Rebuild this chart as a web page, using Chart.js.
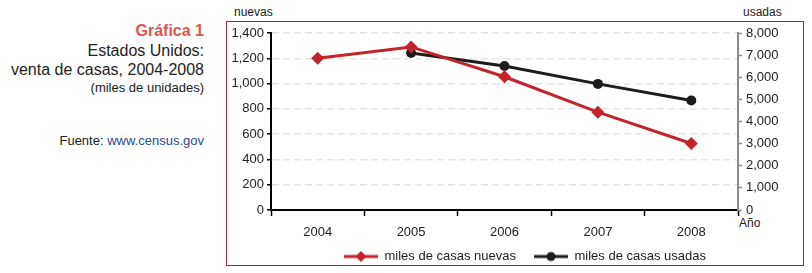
<!DOCTYPE html>
<html>
<head>
<meta charset="utf-8">
<script src="https://cdn.jsdelivr.net/npm/chart.js@4"></script>
<style>
  body { margin: 0; width: 812px; height: 273px; overflow: hidden; background: #fff; position: relative;
         font-family: "Liberation Sans", Arial, sans-serif; color: #222; }
  .side { position: absolute; right: 608px; white-space: nowrap; text-align: right; }
  #box { position: absolute; left: 226px; top: 21px; width: 578px; height: 245px; box-sizing: border-box;
         border: 1px solid #a8283e; }
  #chart { position: absolute; left: 0; top: 0; }
  .lbl { position: absolute; font-size: 12px; line-height: 12px; color: #222; }
</style>
</head>
<body>
<div class="side" style="top:23px;font-size:16px;line-height:16px;font-weight:bold;color:#e0554d;">Gráfica 1</div>
<div class="side" style="top:43px;font-size:16px;line-height:16px;">Estados Unidos:</div>
<div class="side" style="top:62px;font-size:16px;line-height:16px;">venta de casas, 2004-2008</div>
<div class="side" style="top:81px;font-size:13px;line-height:13px;">(miles de unidades)</div>
<div class="side" style="top:134px;font-size:13px;line-height:13px;">Fuente: <span style="color:#2c4797;">www.census.gov</span></div>

<div id="box"></div>
<div class="lbl" style="left:234px;top:6px;">nuevas</div>
<div class="lbl" style="left:743px;top:6px;">usadas</div>
<div class="lbl" style="left:739px;top:217px;">Año</div>

<canvas id="chart" width="840" height="273"></canvas>

<script>
// datos de la gráfica
const years = ['2004', '2005', '2006', '2007', '2008'];
const casasNuevas = [1200, 1290, 1054, 774, 526];
const casasUsadas = [null, 7100, 6505, 5700, 4950];
const seriesNames = ['miles de casas nuevas', 'miles de casas usadas'];

const rojo = '#c4232b';
const negro = '#1c1c1c';

Chart.defaults.font.family = '"Liberation Sans", Arial, sans-serif';

// icono de la leyenda: linea con marcador en medio (8px libres a la izquierda = separacion)
function legendIcon(color, style) {
    const c = document.createElement('canvas');
    c.width = 42;
    c.height = 12;
    const g = c.getContext('2d');
    g.strokeStyle = color;
    g.fillStyle = color;
    g.lineWidth = 3;
    g.beginPath();
    g.moveTo(8, 6);
    g.lineTo(42, 6);
    g.stroke();
    g.beginPath();
    if (style === 'rectRot') {
        g.moveTo(25, 0.5); g.lineTo(30.5, 6); g.lineTo(25, 11.5); g.lineTo(19.5, 6);
    } else {
        g.arc(25, 6, 4.5, 0, Math.PI * 2);
    }
    g.closePath();
    g.fill();
    return c;
}

const fmt = v => v.toLocaleString('en-US');

new Chart(document.getElementById('chart').getContext('2d'), {
    type: 'line',
    data: {
        labels: years,
        datasets: [
            {
                label: seriesNames[0],
                data: casasNuevas,
                yAxisID: 'y',
                borderColor: rojo,
                backgroundColor: rojo,
                borderWidth: 3,
                pointStyle: 'rectRot',
                pointRadius: 6.5,
                pointBorderWidth: 0,
                tension: 0
            },
            {
                label: seriesNames[1],
                data: casasUsadas,
                yAxisID: 'y1',
                borderColor: negro,
                backgroundColor: negro,
                borderWidth: 3,
                pointStyle: 'circle',
                pointRadius: 5,
                pointBorderWidth: 0,
                tension: 0
            }
        ]
    },
    options: {
        responsive: false,
        animation: false,
        layout: { padding: { left: 226, right: 24, top: 33, bottom: 0 } },
        plugins: {
            tooltip: { enabled: false },
            legend: {
                position: 'bottom',
                labels: {
                    usePointStyle: true,
                    pointStyleWidth: 42,
                    boxHeight: 12,
                    padding: 10,
                    color: '#222',
                    font: { size: 13 },
                    generateLabels: chart => chart.data.datasets.map((ds, i) => ({
                        text: ds.label,
                        pointStyle: legendIcon(ds.borderColor, ds.pointStyle),
                        fontColor: '#222',
                        hidden: false,
                        lineWidth: 0,
                        datasetIndex: i
                    }))
                }
            }
        },
        scales: {
            x: {
                offset: true,
                grid: { offset: true, drawOnChartArea: false, color: '#000', tickLength: 6, tickWidth: 1.5 },
                border: { color: '#000', width: 2 },
                ticks: { color: '#222', font: { size: 13 }, padding: 9 },
                afterFit: s => { s.height = 30; }
            },
            y: {
                position: 'left',
                min: 0,
                max: 1400,
                ticks: { stepSize: 200, callback: fmt, color: '#222', font: { size: 13 }, padding: 3 },
                grid: { color: '#e6e6e6', lineWidth: 1.5, tickColor: '#000', tickLength: 4, tickWidth: 1.5 },
                border: { color: '#000', width: 2, dash: [7, 4] },
                afterFit: s => { s.width = 45; }
            },
            y1: {
                position: 'right',
                min: 0,
                max: 8000,
                ticks: { stepSize: 1000, callback: fmt, color: '#222', font: { size: 13 }, padding: 4 },
                grid: { drawOnChartArea: false, color: '#888', tickLength: 4, tickWidth: 1.5 },
                border: { color: '#8a8a8a', width: 2 },
                afterFit: s => { s.width = 78; }
            }
        }
    }
});
</script>
</body>
</html>
